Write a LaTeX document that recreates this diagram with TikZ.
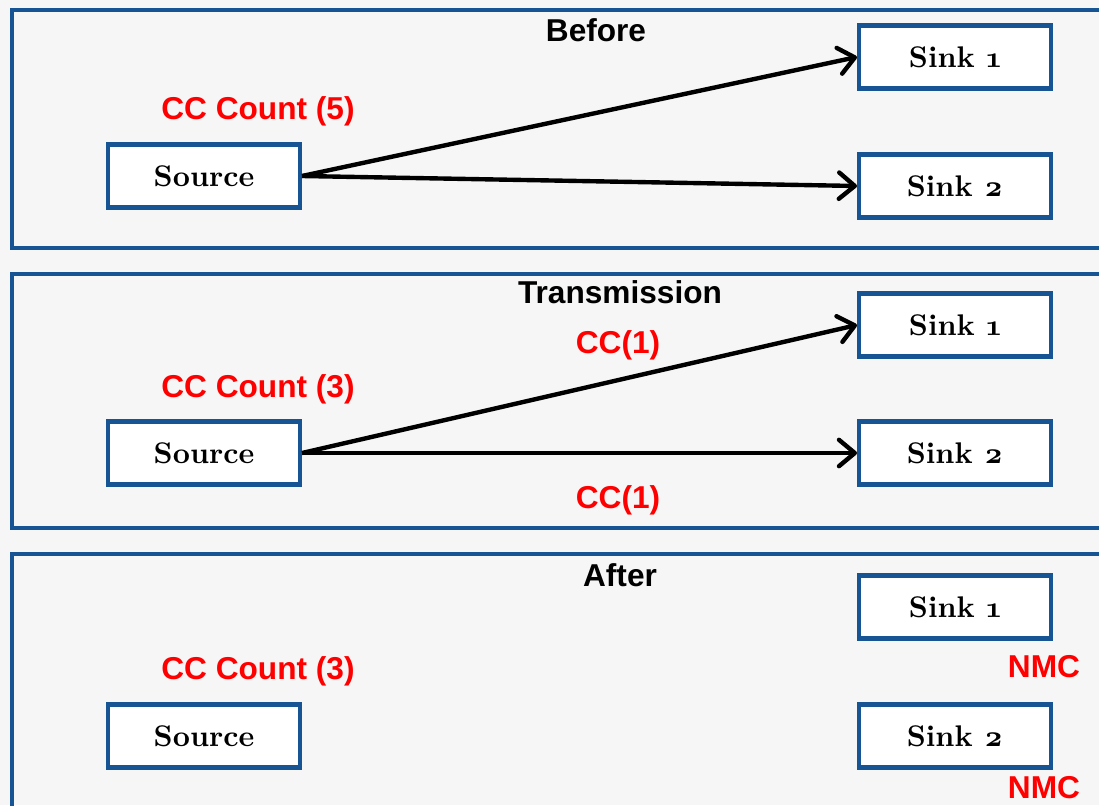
\documentclass[tikz,border=0pt]{standalone}
\usepackage{fontspec}
\setmainfont{lmroman10-regular.otf}[BoldFont=lmroman10-bold.otf]
\newfontfamily\labelfont{Liberation Sans}
\usetikzlibrary{arrows.meta}
\definecolor{panelblue}{RGB}{22,84,148}
\definecolor{ccred}{RGB}{255,0,0}
\definecolor{paper}{RGB}{246,246,246}
\begin{document}
\begin{tikzpicture}[x=0.02cm,y=-0.02cm,
  panel/.style={draw=panelblue,line width=2.3pt},
  box node/.style={draw=panelblue,fill=white,line width=2.3pt,minimum width=3.84cm,minimum height=1.26cm,font=\bfseries\fontsize{17}{20}\selectfont},
  head/.style={font=\labelfont\bfseries\fontsize{18}{21}\selectfont},
  count/.style={font=\labelfont\bfseries\fontsize{18}{21}\selectfont,text=ccred},
  flow/.style={line width=2.5pt,-{Straight Barb[length=9pt,width=15pt,round]}}]
  	\clip (0,0) rectangle (1099,805);
  	\fill[paper] (0,0) rectangle (1099,805);
  	
  	% the three stages
  	\draw[panel] (12,10) rectangle (1120,248);
  	\draw[panel] (12,274) rectangle (1120,528);
  	\draw[panel] (12,554) rectangle (1120,830);
  	
  	\node[head] at (596,30) (t1) {Before};
  	\node[head] at (620,292) (t2) {Transmission};
  	\node[head] at (620,575) (t3) {After};
  	
  	\node[box node] at (204,176) (src1) {Source};
  	\node[box node] at (955,57) (sink11) {Sink \oldstylenums{1}};
  	\node[box node] at (955,186) (sink12) {Sink \oldstylenums{2}};
  	
  	\node[box node] at (204,453) (src2) {Source};
  	\node[box node] at (955,325) (sink21) {Sink \oldstylenums{1}};
  	\node[box node] at (955,453) (sink22) {Sink \oldstylenums{2}};
  	
  	\node[box node] at (204,736) (src3) {Source};
  	\node[box node] at (955,607) (sink31) {Sink \oldstylenums{1}};
  	\node[box node] at (955,736) (sink32) {Sink \oldstylenums{2}};
  	
  	% counters
  	\node[count] at (258,111) (cnt1) {CC Count (5)};
  	\node[count] at (258,389) (cnt2) {CC Count (3)};
  	\node[count] at (258,671) (cnt3) {CC Count (3)};
  	
  	\node[count] at (618,345) (cc21) {CC(1)};
  	\node[count] at (618,500) (cc22) {CC(1)};
  	
  	\node[count] at (1044,667) (nmc1) {NMC};
  	\node[count] at (1044,788) (nmc2) {NMC};
  	
  	\path[flow]
  	(src1.east) edge (sink11.west)
  	(src1.east) edge (sink12.west)
  	
  	(src2.east) edge (sink21.west)
  	(src2.east) edge (sink22.west);
\end{tikzpicture}
\end{document}
